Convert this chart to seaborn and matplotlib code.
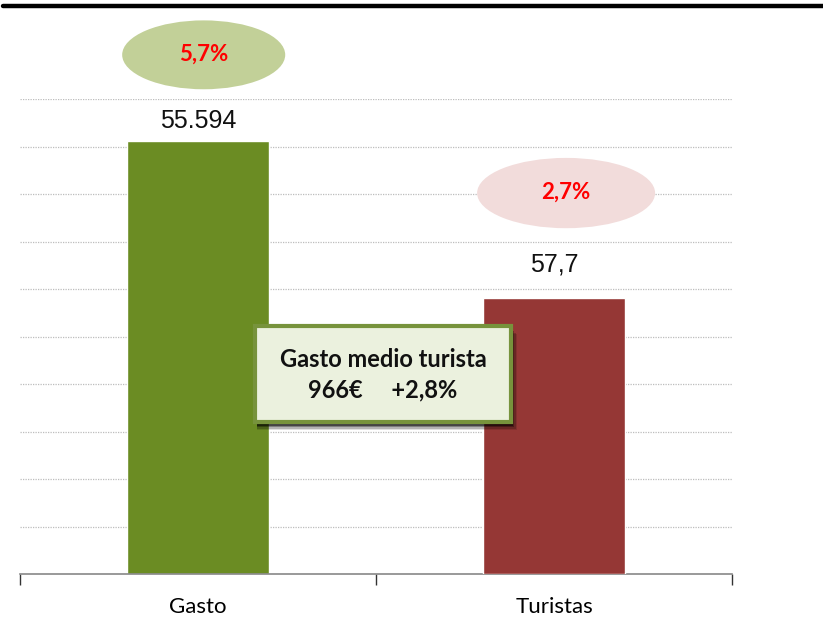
import numpy as np
import pandas as pd
import seaborn as sns
import matplotlib.pyplot as plt
from matplotlib.patches import Ellipse, Rectangle
from matplotlib.lines import Line2D

# Datos
categorias = ["Gasto", "Turistas"]
valores = [55594, 57.7]
etiquetas_valor = ["55.594", "57,7"]
variaciones = ["5,7%", "2,7%"]
colores_barra = ["#6B8C23", "#953735"]
colores_elipse = ["#C2D098", "#F2DCDB"]
limites_y = [61000, 99.4]
texto_caja = "Gasto medio turista\n966€     +2,8%"

sns.set_theme(style="white")
plt.rcParams["font.family"] = ["Lato", "DejaVu Sans"]

fig = plt.figure(figsize=(8.23, 6.17), dpi=100)
W, H = 823, 617
ax = fig.add_axes([20 / W, 1 - 574 / H, 712 / W, 475 / H])
ax2 = ax.twinx()
ejes = [ax, ax2]

df = pd.DataFrame({"categoria": categorias, "valor": valores})

# Cada barra en su propia escala
for i, a in enumerate(ejes):
    sns.barplot(data=df.iloc[[i]], x="categoria", y="valor", order=categorias,
                color=colores_barra[i], width=0.4, saturation=1, ax=a)
    a.set_ylim(0, limites_y[i])
    a.set_xlim(-0.5, 1.5)
    a.set_xlabel("")
    a.set_ylabel("")
    a.set_yticks([])
    for s in a.spines.values():
        s.set_visible(False)

# Rejilla punteada
for y in np.linspace(0, limites_y[0], 11)[1:]:
    ax.axhline(y, color="#BDBDBD", lw=0.9, ls=(0, (1, 1)), zorder=0)

ax.spines["bottom"].set_visible(True)
ax.spines["bottom"].set_color("#888888")
ax.spines["bottom"].set_linewidth(1.2)
ax.set_xticks([0, 1])
ax.set_xticklabels(categorias, fontsize=16, color="black")
ax.tick_params(axis="x", which="major", length=0, pad=16.5)
ax.set_xticks([-0.5, 0.5, 1.5], minor=True)
ax.tick_params(axis="x", which="minor", length=8, width=1, color="#333333",
               direction="out", bottom=True)

# Etiquetas de valor
desplaz = [6, 15.5]
for i, a in enumerate(ejes):
    a.annotate(etiquetas_valor[i], (i, valores[i]), xytext=(0, desplaz[i]),
               textcoords="offset points", ha="center", va="bottom",
               fontsize=18, family="Liberation Sans", color="#111111")

# Elipses con la variación
pos_elipse = [(0.258, 1.093, 0.229, 0.145), (0.767, 0.802, 0.25, 0.148)]
for i, (cx, cy, w, h) in enumerate(pos_elipse):
    e = Ellipse((cx, cy), w, h, transform=ax.transAxes, facecolor=colores_elipse[i],
                edgecolor="none", clip_on=False, zorder=5)
    ax2.add_patch(e)
    ax2.text(cx, cy + 0.002, variaciones[i], transform=ax.transAxes, ha="center",
             va="center", fontsize=16, fontweight="bold", color="#FF0000", zorder=6)

# Caja de gasto medio con sombra
bx, by, bw, bh = 255 / W, 1 - 422 / H, 256 / W, 96 / H
for k, alpha in enumerate([0.12, 0.2, 0.3, 0.45]):
    d = 8 - 1.5 * k
    fig.patches.append(Rectangle((bx + 2 / W, by - d / H), bw + (d - 4) / W, bh,
                                 transform=fig.transFigure, facecolor="black",
                                 alpha=alpha, edgecolor="none", zorder=7))
fig.patches.append(Rectangle((bx, by), bw, bh, transform=fig.transFigure,
                             facecolor="#EBF1DE", edgecolor="#77933C", lw=3, zorder=8))
fig.text(bx + bw / 2, by + bh / 2 - 1 / H, texto_caja, ha="center", va="center",
         fontsize=17, fontweight="bold", color="#111111", linespacing=1.4, zorder=9)

# Línea superior
fig.lines.append(Line2D([3 / W, 1], [1 - 5.5 / H, 1 - 5.5 / H], transform=fig.transFigure,
                        color="black", lw=3.2))

fig.savefig("out.png", dpi=100)
